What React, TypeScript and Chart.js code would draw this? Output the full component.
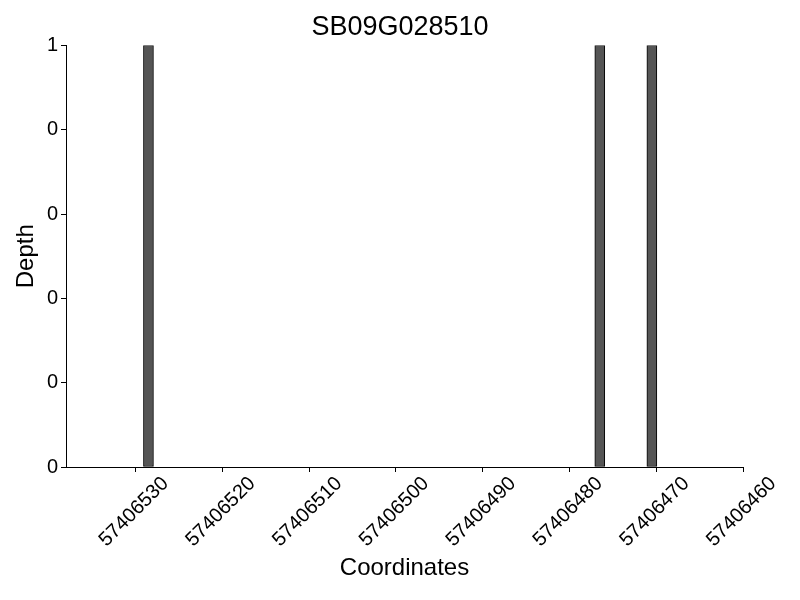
import React, { useEffect, useRef } from "react";
import { Chart, registerables } from "chart.js";

Chart.register(...registerables);

const TITLE = "SB09G028510";
const X_LABEL = "Coordinates";
const Y_LABEL = "Depth";
const POSITIONS = [57406528.5, 57406476.5, 57406470.5];
const DEPTH = [1, 1, 1];
const X_TICKS = [57406460, 57406470, 57406480, 57406490, 57406500, 57406510, 57406520, 57406530];
const Y_TICKS = [0, 0.2, 0.4, 0.6, 0.8, 1];
const Y_TICK_LABELS = ["0", "0", "0", "0", "0", "1"];
const X_MIN = 57406460;
const X_MAX = 57406538;

export default function App() {
  const ref = useRef<HTMLCanvasElement | null>(null);

  useEffect(() => {
    if (!ref.current) return;
    const font = "'Liberation Sans', Arial, Helvetica, sans-serif";
    Chart.defaults.font.family = font;
    const chart = new Chart(ref.current, {
      type: "bar",
      data: {
        datasets: [
          {
            data: POSITIONS.map((x, i) => ({ x, y: DEPTH[i] })),
            backgroundColor: "#555555",
            borderColor: "#000000",
            borderWidth: 1,
            borderSkipped: false,
            barThickness: 10,
          },
        ],
      },
      options: {
        animation: false,
        responsive: false,
        maintainAspectRatio: false,
        layout: { padding: { left: 0, right: 0, top: 0, bottom: 0 } },
        plugins: {
          legend: { display: false },
          tooltip: { enabled: false },
          title: {
            display: true,
            text: TITLE,
            color: "#000",
            font: { size: 27, weight: "normal", family: font },
            padding: { top: 11, bottom: 2 },
          },
        },
        scales: {
          x: {
            type: "linear",
            reverse: true,
            min: X_MIN,
            max: X_MAX,
            offset: false,
            grid: { drawOnChartArea: false, drawTicks: true, tickLength: 5, color: "#000", offset: false },
            border: { display: true, color: "#000", width: 1 },
            afterBuildTicks: (scale: any) => {
              scale.ticks = X_TICKS.map((v) => ({ value: v }));
            },
            afterFit: (scale: any) => {
              scale.height = 133;
              scale.paddingLeft = 0;
              scale.paddingRight = 0;
            },
            ticks: {
              autoSkip: false,
              minRotation: 45,
              maxRotation: 45,
              labelOffset: 30,
              padding: 0,
              color: "#000",
              font: { size: 20, family: font },
              callback: (v: any) => String(v),
            },
            title: {
              display: true,
              text: X_LABEL,
              color: "#000",
              font: { size: 24, family: font },
              padding: { top: 0, bottom: 17 },
            },
          },
          y: {
            min: 0,
            max: 1,
            grid: { drawOnChartArea: false, drawTicks: true, tickLength: 5, color: "#000" },
            border: { display: true, color: "#000", width: 1 },
            afterBuildTicks: (scale: any) => {
              scale.ticks = Y_TICKS.map((v) => ({ value: v }));
            },
            afterFit: (scale: any) => {
              scale.width = 66;
              scale.paddingTop = 0;
              scale.paddingBottom = 0;
            },
            ticks: {
              padding: 3,
              color: "#000",
              font: { size: 20, family: font },
              callback: (_v: any, i: number) => Y_TICK_LABELS[i],
            },
            title: {
              display: true,
              text: Y_LABEL,
              color: "#000",
              font: { size: 24, family: font },
              padding: { top: 12, bottom: 0 },
            },
          },
          spacer: {
            type: "linear",
            position: "right",
            display: true,
            grid: { display: false },
            border: { display: false },
            ticks: { display: false },
            afterFit: (scale: any) => {
              scale.width = 57;
              scale.paddingTop = 0;
              scale.paddingBottom = 0;
            },
          },
        },
      },
    } as any);
    return () => chart.destroy();
  }, []);

  return (
    <div style={{ position: "fixed", left: 0, top: 0, width: 800, height: 600, background: "#fff" }}>
      <canvas ref={ref} width={800} height={600} style={{ width: 800, height: 600 }} />
    </div>
  );
}
